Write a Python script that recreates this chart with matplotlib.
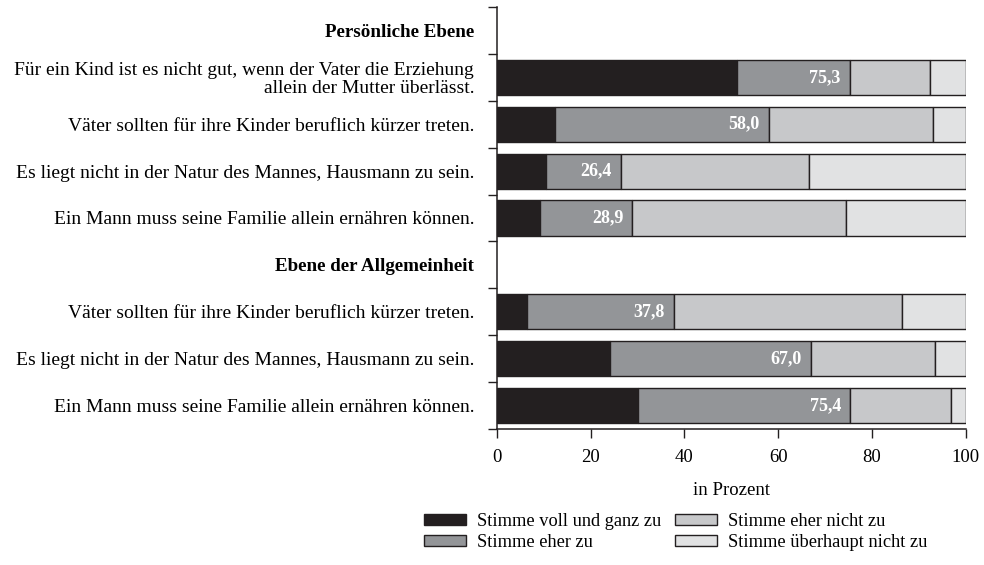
import matplotlib
matplotlib.use("Agg")
import matplotlib.pyplot as plt
from matplotlib.patches import Patch
import numpy as np

plt.rcParams['font.family'] = ['Liberation Serif', 'DejaVu Serif']

# ---- data ----
labels = [
    "Persönliche Ebene",
    "Für ein Kind ist es nicht gut, wenn der Vater die Erziehung\nallein der Mutter überlässt.",
    "Väter sollten für ihre Kinder beruflich kürzer treten.",
    "Es liegt nicht in der Natur des Mannes, Hausmann zu sein.",
    "Ein Mann muss seine Familie allein ernähren können.",
    "Ebene der Allgemeinheit",
    "Väter sollten für ihre Kinder beruflich kürzer treten.",
    "Es liegt nicht in der Natur des Mannes, Hausmann zu sein.",
    "Ein Mann muss seine Familie allein ernähren können.",
]
is_header = [True, False, False, False, False, True, False, False, False]

voll_zu =        [51.2, 12.3, 10.4, 9.1, 6.3, 24.1, 30.1]
eher_zu =        [24.1, 45.7, 16.0, 19.8, 31.5, 42.9, 45.3]
eher_nicht_zu =  [17.1, 35.0, 40.1, 45.6, 48.6, 26.4, 21.4]
gar_nicht_zu =   [7.6, 7.0, 33.5, 25.5, 13.6, 6.6, 3.2]
zustimmung_text = ["75,3", "58,0", "26,4", "28,9", "37,8", "67,0", "75,4"]

series_names = ["Stimme voll und ganz zu", "Stimme eher zu",
                "Stimme eher nicht zu", "Stimme überhaupt nicht zu"]
colors = ["#231f20", "#939598", "#c7c8ca", "#e1e2e3"]
edge = "#231f20"

xticks = [0, 20, 40, 60, 80, 100]

# ---- figure ----
fig = plt.figure(figsize=(9.84, 5.65), dpi=100)
ax = fig.add_axes([497/984, 1-429/565, (965.5-497)/984, (429-7)/565])

positions = [i for i, h in enumerate(is_header) if not h]
series = [voll_zu, eher_zu, eher_nicht_zu, gar_nicht_zu]
left = np.zeros(len(positions))
for vals, col in zip(series, colors):
    ax.barh(positions, vals, left=left, height=0.75, color=col,
            edgecolor=edge, linewidth=1.0, zorder=2)
    left = left + np.array(vals)

cum2 = np.array(voll_zu) + np.array(eher_zu)
for p, c, t in zip(positions, cum2, zustimmung_text):
    ax.annotate(t, xy=(c, p), xytext=(-6.5, 0), textcoords='offset points',
                ha='right', va='center', color='white', fontweight='bold',
                fontsize=13, zorder=3)

ax.set_xlim(0, 100)
ax.set_ylim(len(labels) - 0.5, -0.5)

ax.set_yticks(range(len(labels)))
ax.set_yticklabels(labels, fontsize=14, linespacing=1.05)
for tl, h in zip(ax.get_yticklabels(), is_header):
    if h:
        tl.set_fontweight('bold')
        tl.set_fontsize(13.7)
ax.tick_params(axis='y', which='major', length=0, pad=16.5)
ax.set_yticks(np.arange(-0.5, len(labels), 1.0), minor=True)
ax.tick_params(axis='y', which='minor', length=6.5, width=1.0, color=edge,
               direction='out')

ax.set_xticks(xticks)
ax.set_xticklabels([str(x) for x in xticks], fontsize=13.5)
ax.tick_params(axis='x', length=6.5, width=1.0, color=edge, pad=8)
ax.set_xlabel("in Prozent", fontsize=13.5, labelpad=11.5)

for s in ['top', 'right']:
    ax.spines[s].set_visible(False)
for s in ['left', 'bottom']:
    ax.spines[s].set_linewidth(1.1)
    ax.spines[s].set_color(edge)

handles = [Patch(facecolor=c, edgecolor=edge, linewidth=1.0) for c in colors]
fig.legend(handles, series_names, loc='upper left',
           bbox_to_anchor=(424/984, 1-513/565), ncol=2, frameon=False,
           fontsize=13.2, handlelength=2.3, handleheight=0.55,
           handletextpad=0.6, columnspacing=0.73, labelspacing=0.2,
           borderpad=0, borderaxespad=0)

fig.savefig("out.png", dpi=100)
